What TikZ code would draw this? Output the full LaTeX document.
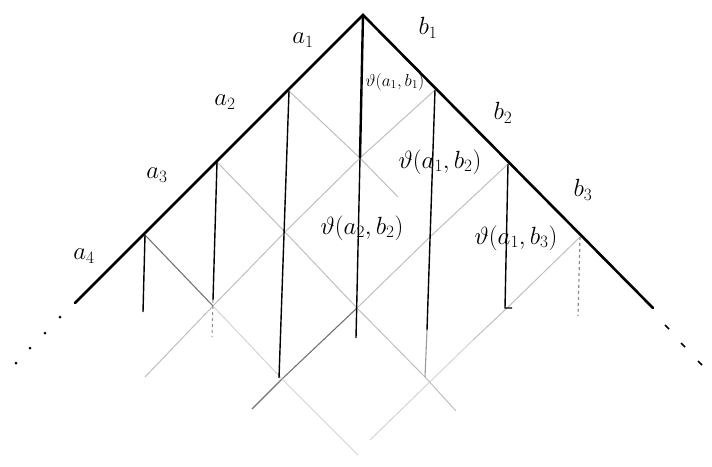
\documentclass[tikz,border=0pt]{standalone}
\begin{document}
\begin{tikzpicture}[x=1pt,y=-1pt,
  side/.style={line width=2.6pt, line cap=round},
  vline/.style={line width=1.4pt},
  thickv/.style={line width=2.4pt},
  faint/.style={line width=1pt, draw=black!25},
  fainter/.style={line width=1pt, draw=black!17},
  diag/.style={line width=1.1pt, draw=black!55},
  dotd/.style={fill=black, inner sep=0pt, minimum size=3pt, circle},
  lab/.style={font=\fontsize{26}{28}\selectfont, inner sep=0pt},
  flab/.style={font=\fontsize{23}{25}\selectfont, inner sep=0pt},
  flabs/.style={font=\fontsize{18}{20}\selectfont, inner sep=0pt}]
\useasboundingbox (0,0) rectangle (712,466);
% lattice points
\coordinate (O) at (363,15);
\coordinate (L1) at (289,91);
\coordinate (L2) at (217,162);
\coordinate (L3) at (145,235);
\coordinate (L4) at (75,303);
\coordinate (R1) at (435,90);
\coordinate (R2) at (508,164);
\coordinate (R3) at (580,237);
\coordinate (R4) at (653,308);
\coordinate (P11) at (360,158);
\coordinate (P21) at (285,232);
\coordinate (P31) at (213,306);
\coordinate (P41) at (145,377);
\coordinate (P12) at (431,236);
\coordinate (P22) at (357,308);
\coordinate (P32) at (282,379);
\coordinate (E2) at (252,409);
\coordinate (P13) at (506,309);
\coordinate (E3a) at (473,340);
\coordinate (E3) at (370,440);
\coordinate (E1) at (398,197);
\coordinate (P23) at (425,377);
\coordinate (E4) at (456,411);
\coordinate (E5) at (358,455);
% faint diagonal lattice lines
\draw[faint] (R1) -- (P11) -- (P21) -- (P31) -- (P41);
\draw[faint] (R2) -- (P12) -- (P22);
\draw[diag] (P22) -- (P32) -- (E2);
\draw[faint] (R3) -- (P13) -- (E3a);
\draw[fainter] (E3a) -- (E3);
\draw[faint] (L1) -- (P11) -- (E1);
\draw[faint] (L2) -- (P21) -- (P22) -- (P23) -- (E4);
\draw[diag] (L3) -- (P31);
\draw[fainter] (P31) -- (P32) -- (E5);
% verticals
\coordinate (V0b) at (356,338);
\coordinate (V1b) at (279,378);
\coordinate (V2m) at (213,300);
\coordinate (V2b) at (212,337);
\coordinate (V3b) at (143,312);
\coordinate (V4m) at (427,330);
\coordinate (V4b) at (425,377);
\coordinate (V5b) at (505,308);
\coordinate (V5t) at (512,308);
\coordinate (V6b) at (578,316);
\draw[thickv] (O) -- (P11);
\draw[vline] (P11) -- (V0b);
\draw[vline] (L1) -- (V1b);
\draw[vline] (L2) -- (V2m);
\draw[line width=1pt, draw=black!45, dashed] (V2m) -- (V2b);
\draw[vline] (L3) -- (V3b);
\draw[vline] (R1) -- (V4m);
\draw[line width=1.1pt, draw=black!40] (V4m) -- (V4b);
\draw[vline] (R2) -- (V5b) -- (V5t);
\draw[line width=1.2pt, draw=black!45, dashed] (R3) -- (V6b);
% sides
\draw[side] (L4) -- (O) -- (R4);
% dots
\node[dotd] (d1) at (60,317) {};
\node[dotd] (d2) at (45,333) {};
\node[dotd] (d3) at (30,348) {};
\node[dotd] (d4) at (16,363) {};
\coordinate (r1a) at (665,325); \coordinate (r1b) at (669,329);
\coordinate (r2a) at (681,343); \coordinate (r2b) at (685,347);
\coordinate (r3a) at (698,361); \coordinate (r3b) at (702,365);
\draw[line width=1.5pt] (r1a) -- (r1b);
\draw[line width=1.5pt] (r2a) -- (r2b);
\draw[line width=1.5pt] (r3a) -- (r3b);
% labels
\node[lab] (la1) at (303,40) {$a_1$};
\node[lab] (la2) at (225,102) {$a_2$};
\node[lab] (la3) at (157,175) {$a_3$};
\node[lab] (la4) at (84,256) {$a_4$};
\node[lab] (lb1) at (428,28) {$b_1$};
\node[lab] (lb2) at (503,113) {$b_2$};
\node[lab] (lb3) at (583,190) {$b_3$};
\node[flabs] (f11) at (395,82) {$\vartheta(a_1,b_1)$};
\node[flab] (f12) at (440,162) {$\vartheta(a_1,b_2)$};
\node[flab] (f22) at (362,228) {$\vartheta(a_2,b_2)$};
\node[flab] (f13) at (516,238) {$\vartheta(a_1,b_3)$};
\end{tikzpicture}
\end{document}
